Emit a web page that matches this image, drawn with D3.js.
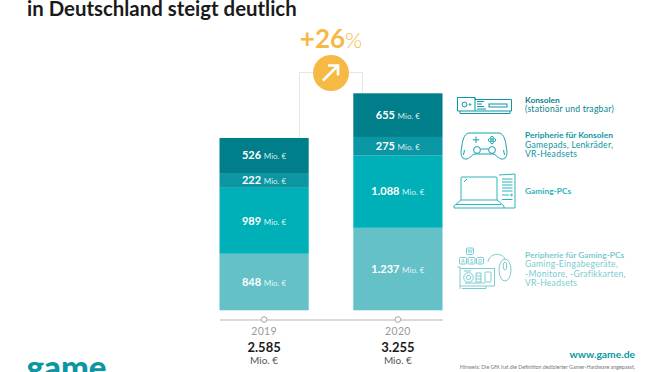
<!DOCTYPE html>
<html>
<head>
<meta charset="utf-8">
<script src="https://cdnjs.cloudflare.com/ajax/libs/d3/7.8.5/d3.min.js"></script>
<style>
html, body { margin: 0; padding: 0; background: #fff; overflow: hidden; }
svg { display: block; font-family: Lato, sans-serif; }
</style>
</head>
<body>
<svg id="chart" width="662" height="372"></svg>
<script>
var years = ["2019", "2020"];
var totals = ["2.585", "3.255"];
var categories = ["pcPeripherals", "pcs", "consolePeripherals", "consoles"];
var pcPeripherals = [848, 1237];
var pcs = [989, 1088];
var consolePeripherals = [222, 275];
var consoles = [526, 655];
var seriesColors = ["#64c1c7", "#00b0b8", "#0a96a2", "#007f8b"];
var legendTitles = ["Konsolen", "Peripherie für Konsolen", "Gaming-PCs", "Peripherie für Gaming-PCs"];
var legendLines = [
    ["(stationär und tragbar)"],
    ["Gamepads, Lenkräder,", "VR-Headsets"],
    [],
    ["Gaming-Eingabegeräte,", "-Monitore, -Grafikkarten,", "VR-Headsets"]
];

var svg = d3.select("#chart");
var amber = "#f6b945";

var rows = years.map(function(y, i){
    return {year: y, pcPeripherals: pcPeripherals[i], pcs: pcs[i],
            consolePeripherals: consolePeripherals[i], consoles: consoles[i]};
});

var xScale = d3.scaleBand().domain(years).range([219.5, 442.5]).paddingInner(1 / 3);
var yScale = d3.scaleLinear().domain([0, 3255]).range([310.3, 93.3]);
var color = d3.scaleOrdinal().domain(categories).range(seriesColors);
var fmt = function(v){ return String(v).replace(/(\d)(\d{3})$/, "$1.$2"); };

// title, the first line is cut off in the picture
svg.append("text").attr("x", 27).attr("y", 15.5)
    .attr("font-size", 20.4).attr("font-weight", 700).attr("fill", "#1a1a1a")
    .text("in Deutschland steigt deutlich");

// bracket between the two bars
var topOf = function(i){ return yScale(d3.sum(categories, function(c){ return rows[i][c]; })); };
svg.append("path")
    .attr("d", "M299.5," + topOf(0) + "V72.5H362.5V" + topOf(1))
    .attr("fill", "none").attr("stroke", "#e6e6e6").attr("stroke-width", 1);

// growth badge
var growth = svg.append("text").attr("x", 331).attr("y", 48)
    .attr("text-anchor", "middle").attr("fill", amber);
growth.append("tspan").attr("font-size", 26).attr("font-weight", 700).text("+26");
growth.append("tspan").attr("font-size", 22).attr("font-weight", 300).text("%");
svg.append("circle").attr("cx", 331).attr("cy", 73).attr("r", 18).attr("fill", amber);
svg.append("path").attr("d", "M323,80.5L338,65.5M328,65.5H338V75.5")
    .attr("fill", "none").attr("stroke", "#fff").attr("stroke-width", 2.6);

// stacked bars
var stack = d3.stack().keys(categories)(rows);
var layers = svg.selectAll("g.layer").data(stack).enter().append("g")
    .attr("class", "layer").attr("fill", function(d){ return color(d.key); });

layers.selectAll("rect").data(function(d){ return d; }).enter().append("rect")
    .attr("x", function(d){ return xScale(d.data.year); })
    .attr("y", function(d){ return yScale(d[1]); })
    .attr("width", xScale.bandwidth())
    .attr("height", function(d){ return yScale(d[0]) - yScale(d[1]); });

var labels = layers.selectAll("text").data(function(d){ return d; }).enter().append("text")
    .attr("x", function(d){ return xScale(d.data.year) + xScale.bandwidth() / 2; })
    .attr("y", function(d){ return (yScale(d[0]) + yScale(d[1])) / 2 + 3.8; })
    .attr("text-anchor", "middle").attr("fill", "#fff");
labels.append("tspan").attr("font-size", 11).attr("font-weight", 700)
    .text(function(d){ return fmt(d[1] - d[0]) + " "; });
labels.append("tspan").attr("font-size", 8).attr("fill-opacity", 0.85).text("Mio. €");

// axis
var axis = d3.axisBottom(xScale).tickSize(0).tickPadding(8);
var axisG = svg.append("g").attr("transform", "translate(0,319.5)").call(axis);
axisG.select(".domain").attr("stroke", "#b5b5b5").attr("stroke-width", 1);
axisG.selectAll("text").attr("font-size", 10.5).attr("font-family", "Lato, sans-serif")
    .attr("fill", "#9a9a9a").attr("letter-spacing", 0.3);
axisG.selectAll(".tick").append("circle").attr("r", 2.8)
    .attr("fill", "#fff").attr("stroke", "#a5a5a5").attr("stroke-width", 1);

svg.selectAll("text.total").data(totals).enter().append("text").attr("class", "total")
    .attr("x", function(d, i){ return xScale(years[i]) + xScale.bandwidth() / 2; })
    .attr("y", 352).attr("text-anchor", "middle")
    .attr("font-size", 13).attr("font-weight", 700).attr("fill", "#1a1a1a")
    .text(function(d){ return d; });
svg.selectAll("text.unit").data(years).enter().append("text").attr("class", "unit")
    .attr("x", function(d){ return xScale(d) + xScale.bandwidth() / 2; })
    .attr("y", 364).attr("text-anchor", "middle")
    .attr("font-size", 10).attr("fill", "#555")
    .text("Mio. €");

// legend text
var legendY = [102.5, 138, 193.5, 257.5];
var legendFill = ["#0a7f8b", "#0a96a2", "#2eb4bc", "#7ccbd0"];
legendTitles.forEach(function(t, i){
    svg.append("text").attr("x", 525).attr("y", legendY[i])
        .attr("font-size", 8.4).attr("font-weight", 700).attr("fill", legendFill[i]).text(t);
    legendLines[i].forEach(function(l, j){
        svg.append("text").attr("x", 525).attr("y", legendY[i] + 9.7 + j * 9.4)
            .attr("font-size", 8.6).attr("fill", legendFill[i]).attr("letter-spacing", 0.25).text(l);
    });
});

// legend icons
function icon(stroke){
    return svg.append("g").attr("fill", "none").attr("stroke", stroke).attr("stroke-width", 1);
}
var ic = icon("#0a96a2");
ic.append("path").attr("d", "M457.5,97.5H475V99.5H511.5V111H457.5ZM460,111V113.5H510V111M475,97.5V111");
ic.append("circle").attr("cx", 464.5).attr("cy", 104.5).attr("r", 2.4);
ic.append("circle").attr("cx", 470).attr("cy", 104.5).attr("r", 0.8);
ic.append("path").attr("d", "M477,101.5H484M477,104H482M477,106.5H484M477,109H486");
ic.append("rect").attr("x", 489).attr("y", 104).attr("width", 18).attr("height", 3);

var ic2 = icon("#16a2ac");
ic2.append("path").attr("d", "M470,133H498C503,133 505,138 506,145C507,151 508,155 505,158C501,161 498,157 494,154H474C470,157 467,161 463,158C460,155 461,151 462,145C463,138 465,133 470,133Z");
ic2.append("path").attr("d", "M476,136.5V143M472.8,139.8H479.2");
ic2.append("circle").attr("cx", 492).attr("cy", 137.8).attr("r", 1.4);
ic2.append("circle").attr("cx", 492).attr("cy", 142.4).attr("r", 1.4);
ic2.append("circle").attr("cx", 489.7).attr("cy", 140.1).attr("r", 1.4);
ic2.append("circle").attr("cx", 494.3).attr("cy", 140.1).attr("r", 1.4);
ic2.append("circle").attr("cx", 477).attr("cy", 150).attr("r", 3.4);
ic2.append("circle").attr("cx", 492).attr("cy", 150).attr("r", 3.4);
ic2.append("path").attr("d", "M480.4,149H488.6M464.5,150L463.5,155M503.5,150L504.5,155");

var ic3 = icon("#2eb4bc");
ic3.append("path").attr("d", "M461,200V178Q461,177 462,177H496Q497,177 497,178V200");
ic3.append("path").attr("d", "M461,200H497L504,206V208H454V206ZM456,204.5H501M464,182L467,179");
ic3.append("path").attr("d", "M499,175L515,174V208H504M502,179H512.5M502,182H512.5M502,185H512.5M502,188H512.5M502,191H512.5M502,195H509M502,199.5H512.5");
ic3.append("circle").attr("cx", 511.5).attr("cy", 195).attr("r", 0.9);

var ic4 = icon("#7ccbd0");
[[466.5, 248, "W"], [459.5, 257.5, "A"], [468, 257.5, "S"], [476.5, 257.5, "D"]].forEach(function(k){
    ic4.append("rect").attr("x", k[0]).attr("y", k[1]).attr("width", 7).attr("height", 6.5).attr("rx", 1);
    ic4.append("text").attr("x", k[0] + 3.5).attr("y", k[1] + 5).attr("text-anchor", "middle")
        .attr("font-size", 5).attr("font-weight", 700).attr("stroke", "none").attr("fill", "#7ccbd0").text(k[2]);
});
ic4.append("path").attr("d", "M488,262C489,253 502,252 505,259");
ic4.append("ellipse").attr("cx", 505).attr("cy", 270).attr("rx", 6).attr("ry", 11);
ic4.append("ellipse").attr("cx", 505).attr("cy", 266).attr("rx", 1.8).attr("ry", 4);
ic4.append("path").attr("d", "M457.5,267H460V289M460,268.5H494.5V286H460M462,288.5H486V286M464,271H471M465,283H485");
ic4.append("circle").attr("cx", 468.5).attr("cy", 277.5).attr("r", 4.8);
ic4.append("circle").attr("cx", 468.5).attr("cy", 277.5).attr("r", 2.2);
ic4.append("path").attr("d", "M476,273H481V282H476ZM476,276H481M476,279H481");
ic4.append("rect").attr("x", 485).attr("y", 272).attr("width", 6).attr("height", 10).attr("rx", 1);

// footer
svg.append("text").attr("x", 635).attr("y", 357.5).attr("text-anchor", "end")
    .attr("font-size", 10.3).attr("font-weight", 700).attr("fill", "#0a96a2").text("www.game.de");
svg.append("text").attr("x", 635).attr("y", 369).attr("text-anchor", "end")
    .attr("font-size", 5.3).attr("fill", "#777")
    .text("Hinweis: Die GfK hat die Definition dedizierter Gamer-Hardware angepasst,");
svg.append("text").attr("x", 26.5).attr("y", 379)
    .attr("font-size", 33).attr("font-weight", 900).attr("fill", "#0a96a2").text("game");
</script>
</body>
</html>
